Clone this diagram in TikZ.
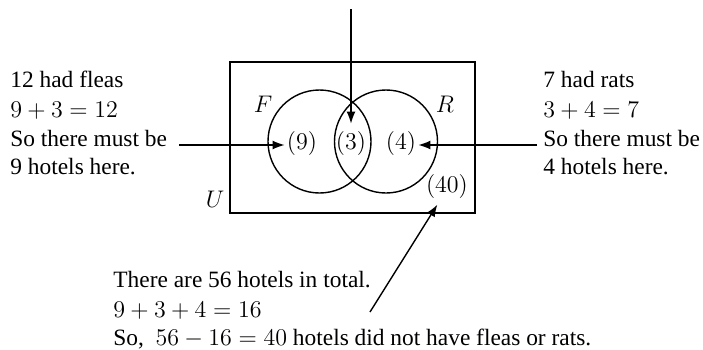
\documentclass[tikz,border=0pt]{standalone}
\usepackage{fontspec}
\setmainfont{Liberation Serif}
\usetikzlibrary{arrows.meta}
\begin{document}
\begin{tikzpicture}[x=0.5pt,y=-0.5pt,
  every node/.style={font=\fontsize{11.7}{14}\selectfont},
  txt/.style={anchor=base west, inner sep=0pt},
  lbl/.style={inner sep=1pt},
  line/.style={line width=0.7pt},
  arr/.style={line width=0.7pt, -{Latex[length=6pt,width=4.5pt]}}]
\useasboundingbox (0,0) rectangle (703,349);
% universal set and circles
\draw[line] (230,62) rectangle (475,213);
\draw[line] (319.5,141.5) circle[radius=51.5];
\draw[line] (386,141.5) circle[radius=51.5];
% labels
\node[lbl] (F) at (263,104) {$F$};
\node[lbl] (R) at (445,104) {$R$};
\node[lbl] (U) at (215,199) {$U$};
\node[lbl] (n9) at (302,143) {$(9)$};
\node[lbl] (n3) at (351,143) {$(3)$};
\node[lbl] (n4) at (401,143) {$(4)$};
\node[lbl] (n40) at (447,186) {$(40)$};
% left text
\node[txt] (l1) at (10,87) {12 had fleas};
\node[txt] (l2) at (10,117) {$9+3=12$};
\node[txt] (l3) at (10,146) {So there must be};
\node[txt] (l4) at (10,174) {9 hotels here.};
% right text
\node[txt] (r1) at (543,87) {7 had rats};
\node[txt] (r2) at (543,117) {$3+4=7$};
\node[txt] (r3) at (543,146) {So there must be};
\node[txt] (r4) at (543,174) {4 hotels here.};
% bottom text
\node[txt] (b1) at (113,287) {There are 56 hotels in total.};
\node[txt] (b2) at (113,317) {$9+3+4=16$};
\node[txt] (b3) at (113,345) {So,\enspace$56-16=40$ hotels did not have fleas or rats.};
% connectors
\coordinate (la) at (179,145);
\coordinate (ra) at (537,145);
\coordinate (ta) at (351,9);
\coordinate (ba) at (370,312);
\draw[arr] (la) -- (n9.west |- la);
\draw[arr] (ra) -- (n4.east |- ra);
\draw[arr, shorten >=2.5pt] (ta) -- (n3.north);
\draw[arr, shorten >=2.5pt] (ba) -- (n40.south west -| 440,0);
\end{tikzpicture}
\end{document}
